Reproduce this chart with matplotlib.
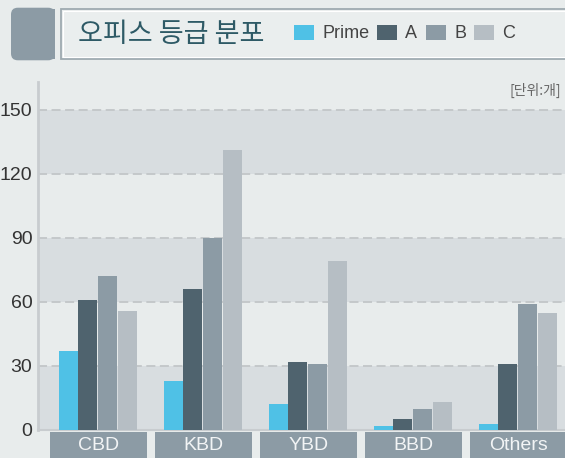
import matplotlib
matplotlib.use("Agg")
import matplotlib.pyplot as plt
from matplotlib.patches import Rectangle, FancyBboxPatch
from matplotlib.transforms import blended_transform_factory
import numpy as np

categories = ["CBD", "KBD", "YBD", "BBD", "Others"]
series_names = ["Prime", "A", "B", "C"]
prime = [37, 23, 12, 2, 3]
grade_a = [61, 66, 32, 5, 31]
grade_b = [72, 90, 31, 10, 59]
grade_c = [56, 131, 79, 13, 55]
yticks = [0, 30, 60, 90, 120, 150]
colors = ["#4fc1e6", "#4f636e", "#8c9ba5", "#b6bec4"]
title = "오피스 등급 분포"
unit_label = "[단위:개]"

W, H = 565, 458
BG = "#e8ecec"
BAND = "#d8dde0"

fig = plt.figure(figsize=(W / 100, H / 100), dpi=100, facecolor=BG)

def fx(px):
    return px / W

def fy(py):
    return 1 - py / H

num_font = ["Liberation Sans Narrow", "Liberation Sans", "DejaVu Sans"]
kr_font = ["Noto Sans CJK KR", "DejaVu Sans"]

# Axes
ax = fig.add_axes([fx(38), fy(430), fx(565) - fx(38), fy(82) - fy(430)])
ax.set_facecolor(BG)
ax.set_ylim(0, 163.1)
ax.set_xlim(-0.567, 4.452)

for lo in (0, 60, 120):
    ax.axhspan(lo, lo + 30, color=BAND, zorder=0, lw=0)
for t in yticks[1:]:
    ax.axhline(t, color="#c2c6c8", lw=1.3, ls=(0, (5, 2.5)), zorder=1)

data = [prime, grade_a, grade_b, grade_c]
x = np.arange(len(categories))
step = 0.1875
width = 0.181
for i, (vals, c, name) in enumerate(zip(data, colors, series_names)):
    ax.bar(x + (i - 1.5) * step, vals, width=width, color=c, zorder=3, lw=0, label=name)

ax.set_yticks(yticks)
ax.set_yticklabels([str(t) for t in yticks], fontsize=14, color="#333333",
                   family=num_font)
ax.tick_params(axis="y", length=0, pad=4)
ax.set_xticks([])
for s in ("top", "right"):
    ax.spines[s].set_visible(False)
ax.spines["left"].set_color("#c8cccf")
ax.spines["left"].set_linewidth(2)
ax.spines["bottom"].set_color("#c8cccf")
ax.spines["bottom"].set_linewidth(1.5)

# Category boxes
tr = blended_transform_factory(ax.transData, fig.transFigure)
box_w = 97 / 105
for xi, cat in zip(x, categories):
    ax.add_patch(Rectangle((xi - box_w / 2 + 0.01, 0), box_w, fy(432), transform=tr,
                           facecolor="#8c9ba5", edgecolor="none", clip_on=False, zorder=5))
    ax.text(xi + 0.01, fy(446), cat, transform=tr, ha="center", va="center",
            fontsize=14, color="#f2f4f5", family=num_font, zorder=6, clip_on=False)

# Unit label
fig.text(fx(561), fy(90), unit_label, ha="right", va="center", fontsize=10,
         color="#666666", family=kr_font)

# Header: gray rounded square
sq = FancyBboxPatch((fx(11) + 0.012, fy(59) + 0.012), fx(44) - 0.024, (50 / H) - 0.024,
                    boxstyle="round,pad=0.012", transform=fig.transFigure,
                    facecolor="#8c9ba5", edgecolor="none", mutation_aspect=W / H)
fig.add_artist(sq)
fig.add_artist(Rectangle((fx(33), fy(59)), fx(22), 50 / H, transform=fig.transFigure,
                         facecolor="#8c9ba5", edgecolor="none"))

# Header: title box
fig.add_artist(Rectangle((fx(60.5), fy(59)), fx(520), 50 / H, transform=fig.transFigure,
                         facecolor="#eaeeee", edgecolor="#9eaab0", lw=1.3))
fig.add_artist(Rectangle((fx(62.5), fy(57)), fx(520), 46 / H, transform=fig.transFigure,
                         facecolor="none", edgecolor="#ffffff", lw=0.8))

fig.text(fx(78), fy(34), title, ha="left", va="center", fontsize=19.5,
         color="#2e5a66", family=kr_font)

# Legend
leg_sq = [294, 377, 426, 474]
leg_tx = [323, 405, 454, 502]
for sx, tx_, c, name in zip(leg_sq, leg_tx, colors, series_names):
    fig.add_artist(Rectangle((fx(sx), fy(40)), fx(20), 15 / H, transform=fig.transFigure,
                             facecolor=c, edgecolor="none"))
    fig.text(fx(tx_), fy(33), name, ha="left", va="center", fontsize=13,
             color="#444444", family=["Liberation Sans", "DejaVu Sans"])

fig.savefig("out.png", dpi=100, facecolor=BG)
